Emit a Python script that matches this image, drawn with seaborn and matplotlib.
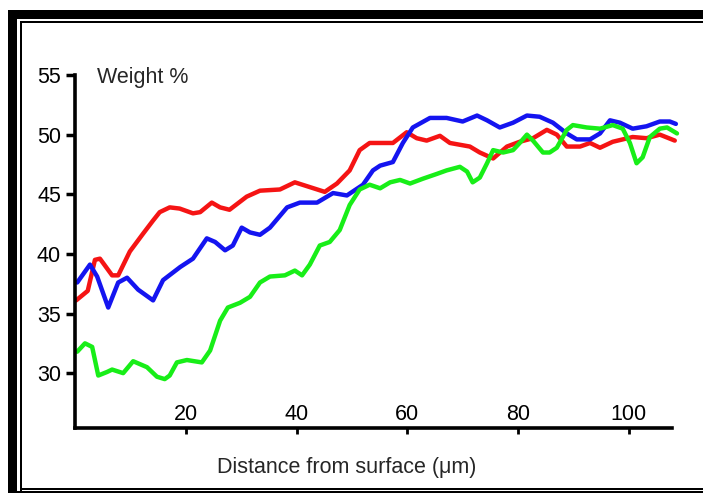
import matplotlib
matplotlib.use("Agg")
import matplotlib.pyplot as plt
import seaborn as sns
import pandas as pd
from matplotlib.patches import Rectangle

# ---- data ----
red_x = [0.2, 2.3, 3.6, 4.5, 6.7, 7.8, 9.9, 12.3, 14.1, 15.3, 17.1, 18.9, 21.3, 22.6, 24.7,
         26.2, 27.9, 31.0, 33.4, 37.0, 39.7, 42.4, 45.1, 47.3, 49.6, 51.4, 53.2, 55.1, 57.4,
         59.9, 61.7, 63.5, 65.9, 67.7, 71.3, 73.1, 75.5, 78.0, 80.3, 82.7, 85.2, 87.0, 88.8,
         91.2, 93.0, 94.8, 97.1, 100.7, 103.2, 105.6, 108.3]
red_y = [36.1, 36.9, 39.5, 39.6, 38.2, 38.2, 40.2, 41.7, 42.8, 43.5, 43.9, 43.8, 43.4, 43.5, 44.3,
         43.9, 43.7, 44.8, 45.3, 45.4, 46.0, 45.6, 45.2, 45.9, 47.0, 48.7, 49.3, 49.3, 49.3,
         50.2, 49.7, 49.5, 49.9, 49.3, 49.0, 48.5, 48.0, 49.0, 49.4, 49.7, 50.4, 50.0, 49.0,
         49.0, 49.3, 48.9, 49.4, 49.8, 49.7, 50.0, 49.5]

blue_x = [0.4, 2.7, 4.0, 6.0, 7.8, 9.4, 11.4, 14.1, 15.9, 19.0, 21.3, 23.8, 25.3, 27.1, 28.5,
          30.1, 31.6, 33.4, 35.2, 38.3, 40.6, 43.7, 46.6, 49.1, 52.0, 53.8, 55.1, 57.4, 59.2,
          61.0, 64.1, 67.1, 70.0, 72.6, 74.4, 76.7, 79.1, 81.6, 83.9, 86.3, 88.8, 90.6, 93.0,
          94.8, 96.6, 98.4, 100.7, 103.2, 105.6, 107.4, 108.5]
blue_y = [37.6, 39.1, 38.1, 35.5, 37.6, 38.0, 37.0, 36.1, 37.8, 38.9, 39.6, 41.3, 41.0, 40.3, 40.7,
          42.2, 41.8, 41.6, 42.2, 43.9, 44.3, 44.3, 45.1, 44.9, 45.8, 47.0, 47.4, 47.7, 49.3,
          50.6, 51.4, 51.4, 51.1, 51.6, 51.2, 50.6, 51.0, 51.6, 51.5, 51.0, 50.1, 49.6, 49.6,
          50.1, 51.2, 51.0, 50.5, 50.7, 51.1, 51.1, 50.9]

green_x = [0.4, 1.8, 3.1, 4.2, 5.8, 6.7, 8.7, 10.5, 13.0, 14.8, 16.2, 17.1, 18.4, 20.2, 22.9,
           24.4, 26.2, 27.6, 29.8, 31.6, 33.4, 35.2, 37.9, 39.7, 41.0, 42.4, 44.2, 46.0, 47.8,
           49.6, 51.4, 53.2, 55.1, 56.9, 58.7, 60.5, 62.8, 65.3, 67.1, 69.5, 70.8, 71.8, 73.1,
           74.4, 75.5, 77.3, 79.1, 80.3, 81.6, 82.7, 84.5, 85.7, 87.0, 88.8, 89.9, 92.4, 94.8,
           97.1, 98.9, 100.2, 101.4, 102.5, 103.8, 105.6, 106.9, 108.7]
green_y = [31.8, 32.5, 32.2, 29.8, 30.1, 30.3, 30.0, 31.0, 30.5, 29.7, 29.5, 29.8, 30.9, 31.1, 30.9,
           31.9, 34.4, 35.5, 35.9, 36.4, 37.6, 38.1, 38.2, 38.6, 38.2, 39.1, 40.7, 41.0, 42.0,
           44.1, 45.4, 45.8, 45.5, 46.0, 46.2, 45.9, 46.3, 46.7, 47.0, 47.3, 46.9, 46.0, 46.4,
           47.6, 48.7, 48.5, 48.7, 49.3, 50.0, 49.5, 48.5, 48.5, 48.9, 50.4, 50.8, 50.6, 50.5,
           50.8, 50.5, 49.3, 47.6, 48.1, 49.8, 50.5, 50.6, 50.1]

series_names = ["red", "blue", "green"]
series_colors = ["#f51414", "#1414f0", "#18ee18"]

x_ticks = [20, 40, 60, 80, 100]
y_ticks = [30, 35, 40, 45, 50, 55]
y_label_text = "Weight %"
x_label_text = "Distance from surface (\u03bcm)"

df = pd.concat([
    pd.DataFrame({"x": red_x, "y": red_y, "s": "red"}),
    pd.DataFrame({"x": blue_x, "y": blue_y, "s": "blue"}),
    pd.DataFrame({"x": green_x, "y": green_y, "s": "green"}),
], ignore_index=True)

# ---- figure ----
sns.set_style("white")
plt.rcParams["font.family"] = ["Liberation Sans", "DejaVu Sans"]
FS = 15.5

W, H = 703, 493
fig = plt.figure(figsize=(W / 100, H / 100), dpi=100)
ax_l, ax_r, ax_t, ax_b = 75, 672, 75, 428
ax = fig.add_axes([ax_l / W, (H - ax_b) / H, (ax_r - ax_l) / W, (ax_b - ax_t) / H])

sns.lineplot(data=df, x="x", y="y", hue="s", hue_order=series_names,
             palette=dict(zip(series_names, series_colors)), sort=False,
             estimator=None, linewidth=3.2, legend=False, ax=ax)
for ln in ax.get_lines():
    ln.set_clip_on(False)
    ln.set_solid_capstyle("round")
    ln.set_solid_joinstyle("round")

ax.set_xlim(0, 107.8)
ax.set_ylim(25.4, 55)
ax.set_xticks(x_ticks)
ax.set_xticklabels([str(v) for v in x_ticks])
ax.set_yticks(y_ticks)
ax.set_yticklabels([str(v) for v in y_ticks])

for side in ["top", "right"]:
    ax.spines[side].set_visible(False)
for side in ["left", "bottom"]:
    ax.spines[side].set_linewidth(2.6)
    ax.spines[side].set_color("black")
    ax.spines[side].set_capstyle("projecting")

ax.tick_params(axis="y", direction="out", length=6.5, width=2.5, pad=3.5,
               labelsize=FS, colors="black", left=True)
ax.tick_params(axis="x", direction="out", length=4.5, width=2.0, pad=-22,
               labelsize=FS, colors="black", bottom=True)

ax.set_ylabel("")
ax.set_xlabel(x_label_text, fontsize=FS, va="center")
ax.xaxis.set_label_coords((347 - ax_l) / (ax_r - ax_l), -(468 - ax_b) / (ax_b - ax_t))

ax.text((97 - ax_l) / (ax_r - ax_l), (ax_b - 77) / (ax_b - ax_t), y_label_text,
        transform=ax.transAxes, fontsize=FS, ha="left", va="center")

# ---- frame around the figure ----
def px_rect(x0, y0, x1, y1):
    fig.patches.append(Rectangle((x0 / W, (H - y1) / H), (x1 - x0) / W, (y1 - y0) / H,
                                 transform=fig.transFigure, facecolor="black",
                                 edgecolor="none", zorder=10))

px_rect(8, 10, 17, H)           # thick left band
px_rect(8, 10, W, 19)           # thick top band
px_rect(19.5, 20.5, 22, H - 2)  # thin inner left
px_rect(19.5, 20.5, W, 23)      # thin inner top
px_rect(19.5, 487.5, W, 489.5)  # inner bottom line
px_rect(8, 491, W, 492.5)       # outer bottom line

fig.savefig("out.png", dpi=100, facecolor="white")
